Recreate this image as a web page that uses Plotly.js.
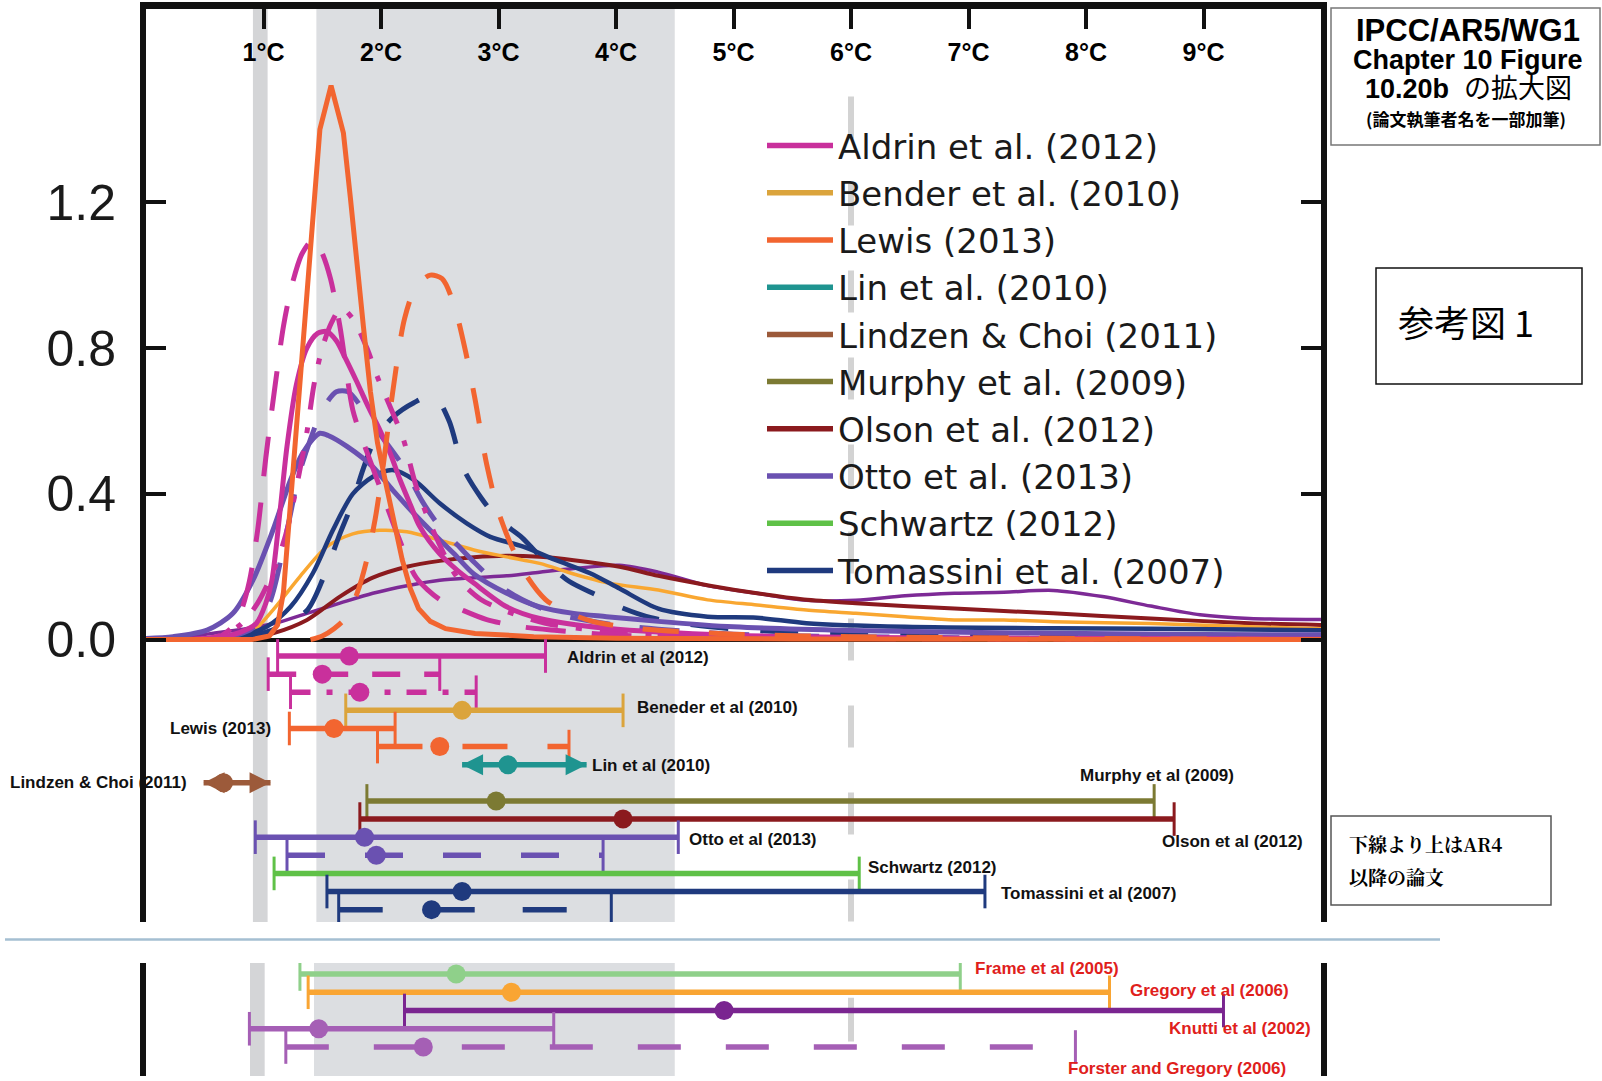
<!DOCTYPE html>
<html><head><meta charset="utf-8">
<script src="https://cdn.plot.ly/plotly-3.0.1.min.js"></script>
<style>html,body{margin:0;padding:0;background:#fff}#chart{width:1602px;height:1081px}</style>
</head><body><div id="chart"></div>
<script>
// ---------- PDF curves (climate sensitivity, °C -> probability density) ----------
const aldrinT = [0.3, 0.6, 0.8, 0.94, 1.02, 1.07, 1.14, 1.20, 1.28, 1.37, 1.46, 1.54, 1.62, 1.70, 1.79, 1.89, 1.99, 2.08, 2.16, 2.25, 2.33, 2.5, 2.65, 2.79, 3.07, 3.35, 3.92, 5.0, 7.0, 10];
const aldrinY = [0, 0.005, 0.02, 0.045, 0.1, 0.16, 0.35, 0.53, 0.70, 0.80, 0.84, 0.845, 0.82, 0.77, 0.71, 0.64, 0.575, 0.51, 0.44, 0.37, 0.31, 0.235, 0.19, 0.155, 0.09, 0.058, 0.031, 0.012, 0.004, 0.001];
const aldrinDashT = [0.4, 0.6, 0.72, 0.8, 0.88, 0.95, 1.02, 1.1, 1.17, 1.24, 1.33, 1.43, 1.5, 1.57, 1.65, 1.76, 1.84, 1.92, 2.0, 2.15, 2.3, 2.5, 2.7, 2.9, 3.2, 3.5, 4.0, 5.0, 7, 10];
const aldrinDashY = [0, 0.005, 0.03, 0.07, 0.16, 0.3, 0.5, 0.7, 0.86, 0.97, 1.06, 1.10, 1.06, 0.99, 0.86, 0.63, 0.55, 0.48, 0.41, 0.28, 0.17, 0.11, 0.08, 0.055, 0.035, 0.025, 0.012, 0.005, 0.002, 0];
const aldrinDotT = [0.4, 0.6, 0.8, 0.95, 1.1, 1.2, 1.3, 1.37, 1.43, 1.5, 1.58, 1.66, 1.76, 1.88, 1.97, 2.05, 2.19, 2.3, 2.47, 2.65, 2.85, 3.05, 3.4, 4.0, 5.0, 7, 10];
const aldrinDotY = [0, 0.008, 0.04, 0.1, 0.2, 0.3, 0.45, 0.57, 0.7, 0.8, 0.87, 0.91, 0.88, 0.8, 0.72, 0.66, 0.55, 0.42, 0.28, 0.17, 0.11, 0.08, 0.045, 0.02, 0.008, 0.003, 0];
const benderT = [0.6, 0.885, 1.08, 1.31, 1.54, 1.76, 1.99, 2.22, 2.50, 2.79, 3.07, 3.35, 3.64, 3.94, 4.36, 4.78, 5.2, 5.62, 6.04, 6.46, 6.88, 7.3, 7.72, 8.55, 9.39, 10];
const benderY = [0, 0.017, 0.081, 0.173, 0.255, 0.29, 0.30, 0.296, 0.273, 0.246, 0.227, 0.209, 0.18, 0.155, 0.136, 0.109, 0.095, 0.081, 0.072, 0.063, 0.054, 0.054, 0.049, 0.044, 0.035, 0.03];
const lewisT = [0, 0.9, 1.05, 1.12, 1.17, 1.22, 1.26, 1.30, 1.35, 1.40, 1.44, 1.48, 1.575, 1.68, 1.74, 1.79, 1.85, 1.91, 1.97, 2.04, 2.11, 2.18, 2.25, 2.32, 2.42, 2.55, 2.8, 3.3, 4.0, 5.5, 10];
const lewisY = [0, 0, 0.01, 0.04, 0.13, 0.33, 0.50, 0.67, 0.86, 1.04, 1.22, 1.40, 1.52, 1.39, 1.21, 1.04, 0.86, 0.68, 0.54, 0.43, 0.33, 0.22, 0.14, 0.085, 0.05, 0.03, 0.017, 0.008, 0.004, 0.002, 0];
const lewisDashT = [1.4, 1.5, 1.6, 1.7, 1.8, 1.88, 1.95, 2.02, 2.1, 2.2, 2.3, 2.42, 2.52, 2.62, 2.72, 2.8, 2.9, 3.0, 3.12, 3.25, 3.4, 3.55, 3.8, 4.2, 5.0, 6.0, 8.0, 10];
const lewisDashY = [0, 0.01, 0.03, 0.06, 0.13, 0.22, 0.33, 0.48, 0.68, 0.88, 0.97, 1.0, 0.99, 0.92, 0.79, 0.66, 0.48, 0.35, 0.25, 0.17, 0.11, 0.08, 0.05, 0.03, 0.015, 0.008, 0.003, 0];
const olsonT = [0.6, 0.9, 1.08, 1.37, 1.65, 1.93, 2.22, 2.5, 2.79, 3.07, 3.35, 3.64, 4.03, 4.36, 4.8, 5.2, 5.6, 6.04, 6.88, 7.72, 8.55, 9.39, 10];
const olsonY = [0, 0.005, 0.017, 0.054, 0.118, 0.17, 0.2, 0.216, 0.226, 0.23, 0.227, 0.218, 0.2, 0.175, 0.148, 0.127, 0.11, 0.1, 0.085, 0.072, 0.058, 0.045, 0.04];
const ottoT = [0, 0.23, 0.52, 0.74, 0.91, 1.08, 1.23, 1.33, 1.42, 1.48, 1.55, 1.71, 1.93, 2.10, 2.28, 2.45, 2.62, 2.79, 3.07, 3.35, 3.64, 3.92, 4.36, 5.0, 6.0, 7.5, 9.0, 10];
const ottoY = [0.003, 0.008, 0.026, 0.072, 0.163, 0.30, 0.438, 0.51, 0.55, 0.566, 0.56, 0.53, 0.474, 0.41, 0.346, 0.29, 0.236, 0.18, 0.127, 0.09, 0.072, 0.063, 0.05, 0.035, 0.025, 0.018, 0.014, 0.013];
const ottoDashT = [0.6, 0.9, 1.05, 1.2, 1.3, 1.4, 1.5, 1.62, 1.72, 1.85, 2.0, 2.2, 2.35, 2.5, 2.65, 2.8, 3.0, 3.2, 3.5, 4.0, 5.0, 7.0, 10];
const ottoDashY = [0, 0.03, 0.1, 0.3, 0.45, 0.55, 0.63, 0.68, 0.68, 0.63, 0.56, 0.47, 0.38, 0.31, 0.26, 0.21, 0.15, 0.11, 0.07, 0.04, 0.015, 0.005, 0];
const tomassiniT = [0.5, 0.8, 1.03, 1.23, 1.42, 1.59, 1.76, 1.93, 2.10, 2.28, 2.50, 2.73, 2.93, 3.21, 3.49, 3.78, 4.03, 4.36, 4.78, 5.2, 5.62, 6.46, 7.72, 8.55, 10];
const tomassiniY = [0, 0.01, 0.036, 0.09, 0.182, 0.30, 0.40, 0.447, 0.465, 0.438, 0.374, 0.319, 0.282, 0.255, 0.218, 0.182, 0.14, 0.085, 0.063, 0.06, 0.045, 0.035, 0.031, 0.03, 0.026];
const tomassiniDashT = [0.8, 1.1, 1.37, 1.51, 1.65, 1.75, 1.85, 1.95, 2.1, 2.28, 2.45, 2.58, 2.7, 2.85, 3.0, 3.2, 3.35, 3.6, 3.85, 4.03, 4.3, 4.8, 5.5, 7, 10];
const tomassiniDashY = [0, 0.03, 0.08, 0.17, 0.29, 0.37, 0.47, 0.55, 0.61, 0.65, 0.67, 0.6, 0.47, 0.39, 0.33, 0.28, 0.23, 0.16, 0.12, 0.09, 0.06, 0.035, 0.02, 0.01, 0.003];
const extraT = [0.3, 0.52, 0.85, 1.1, 1.37, 1.65, 1.93, 2.22, 2.5, 2.79, 3.07, 3.35, 3.64, 4.03, 4.36, 4.78, 5.2, 5.62, 6.04, 6.46, 6.88, 7.3, 7.72, 8.14, 8.55, 8.97, 9.39, 10];
const extraY = [0, 0.015, 0.03, 0.045, 0.072, 0.1, 0.127, 0.148, 0.163, 0.17, 0.175, 0.185, 0.195, 0.204, 0.185, 0.148, 0.127, 0.108, 0.108, 0.12, 0.127, 0.13, 0.135, 0.118, 0.092, 0.068, 0.058, 0.055];

// ---------- ranges (low, best, high, °C) ----------
const upperStudy = ["Aldrin", "Aldrin", "Aldrin", "Bender", "Lewis", "Lewis", "Lin", "Lindzen", "Murphy", "Olson", "Otto", "Otto", "Schwartz", "Tomassini", "Tomassini"];
const upperLo   = [1.12, 1.04, 1.23, 1.70, 1.22, 1.97, 2.69, 0.49, 1.88, 1.82, 0.93, 1.20, 1.09, 1.54, 1.64];
const upperBest = [1.73, 1.50, 1.82, 2.69, 1.60, 2.50, 3.08, 0.66, 2.98, 4.06, 1.86, 1.96, null, 2.69, 2.43];
const upperHi   = [3.40, 2.50, 2.81, 4.06, 2.12, 3.60, 3.75, 1.06, 8.58, 8.75, 4.53, 3.89, 6.07, 7.14, 3.96];
const lowerStudy = ["Frame", "Gregory", "Knutti", "Forster", "Forster"];
const lowerLo   = [1.31, 1.38, 2.20, 0.88, 1.19];
const lowerBest = [2.64, 3.11, 4.92, 1.47, 2.36];
const lowerHi   = [6.93, 8.20, 9.17, 3.47, 7.91];

const legendStudies = ["Aldrin", "Bender", "Lewis", "Lin", "Lindzen", "Murphy", "Olson", "Otto", "Schwartz", "Tomassini"];
const legendNames = ["Aldrin et al. (2012)", "Bender et al. (2010)", "Lewis (2013)", "Lin et al. (2010)", "Lindzen & Choi (2011)", "Murphy et al. (2009)", "Olson et al. (2012)", "Otto et al. (2013)", "Schwartz (2012)", "Tomassini et al. (2007)"];
const upperLabels = ["Aldrin et al (2012)", "Beneder et al (2010)", "Lewis (2013)", "Lin et al (2010)", "Lindzen & Choi (2011)", "Murphy et al (2009)", "Olson et al (2012)", "Otto et al (2013)", "Schwartz (2012)", "Tomassini et al (2007)"];
const lowerLabels = ["Frame et al (2005)", "Gregory et al (2006)", "Knutti et al (2002)", "Forster and Gregory (2006)"];
const xTickVals = [1, 2, 3, 4, 5, 6, 7, 8, 9];
const xTickText = ["1°C", "2°C", "3°C", "4°C", "5°C", "6°C", "7°C", "8°C", "9°C"];
const yTickVals = [0, 0.4, 0.8, 1.2];
const yTickText = ["0.0", "0.4", "0.8", "1.2"];

// ---------- styles ----------
const COL = {
  Aldrin: '#c9309c', Bender: '#dba43c', Lewis: '#f26530', Lin: '#1f9490', Lindzen: '#9c5a3a',
  Murphy: '#7c7a33', Olson: '#8b1a1e', Otto: '#6a51b1', Schwartz: '#5fc147', Tomassini: '#1f3a7e',
  Frame: '#8fd08a', Gregory: '#f9a533', Knutti: '#7a2590', Forster: '#a55fb5'
};
const upperDash = ['solid', '28px,24px', '20px,16px,6px,16px', 'solid', 'solid', '45px,40px', 'solid', 'solid', 'solid', 'solid', 'solid', '38px,40px', 'solid', 'solid', '44px,48px'];
const upperArrow = [false, false, false, false, false, false, true, true, false, false, false, false, false, false, false];
const lowerDash = ['solid', 'solid', 'solid', 'solid', '43px,45px'];
const FONT = 'Liberation Sans, Arial, Helvetica, sans-serif';

const traces = [];

// curves
const curves = [
  [extraT, extraY, '#7d2a96', 3.5, 'solid', 'spline'],
  [olsonT, olsonY, COL.Olson, 4, 'solid', 'spline'],
  [benderT, benderY, '#f9a731', 3.5, 'solid', 'spline'],
  [tomassiniT, tomassiniY, COL.Tomassini, 4.5, 'solid', 'spline'],
  [tomassiniDashT, tomassiniDashY, COL.Tomassini, 5, '38px,32px', 'spline'],
  [ottoT, ottoY, COL.Otto, 5, 'solid', 'spline'],
  [ottoDashT, ottoDashY, COL.Otto, 5, '40px,30px', 'spline'],
  [aldrinDashT, aldrinDashY, COL.Aldrin, 5, '40px,26px', 'spline'],
  [aldrinDotT, aldrinDotY, COL.Aldrin, 5, '28px,18px,6px,18px', 'spline'],
  [aldrinT, aldrinY, COL.Aldrin, 5, 'solid', 'spline'],
  [lewisDashT, lewisDashY, COL.Lewis, 5, '36px,30px', 'spline'],
  [lewisT, lewisY, COL.Lewis, 5, 'solid', 'linear']
];
curves.forEach(c => traces.push({
  type: 'scatter', mode: 'lines', x: c[0], y: c[1], xaxis: 'x', yaxis: 'y',
  line: {color: c[2], width: c[3], dash: c[4], shape: c[5], smoothing: 0.8},
  showlegend: false, hoverinfo: 'skip'
}));

// range bars
function addBar(study, lo, best, hi, yv, dash, arrow, yaxis, legendName) {
  const col = COL[study];
  traces.push({
    type: 'scatter', mode: 'lines', x: [lo, hi], y: [yv, yv], xaxis: 'x', yaxis: yaxis,
    line: {color: col, width: 5.5, dash: dash},
    name: legendName || study, showlegend: !!legendName, hoverinfo: 'skip'
  });
  const xs = [lo, hi], sym = arrow ? ['arrow-left', 'arrow-right'] : ['line-ns', 'line-ns'];
  const sz = arrow ? [21, 21] : [24, 24];
  const lw = arrow ? [0, 0] : [3, 3];
  if (best !== null) { xs.push(best); sym.push('circle'); sz.push(19); lw.push(0); }
  traces.push({
    type: 'scatter', mode: 'markers', x: xs, y: xs.map(() => yv), xaxis: 'x', yaxis: yaxis,
    marker: {color: col, symbol: sym, size: sz, opacity: 1, line: {color: col, width: lw}},
    showlegend: false, hoverinfo: 'skip'
  });
}
const seen = {};
upperStudy.forEach((s, i) => {
  let lname = null;
  if (!seen[s]) { seen[s] = true; lname = legendNames[legendStudies.indexOf(s)]; }
  addBar(s, upperLo[i], upperBest[i], upperHi[i], -0.045 - 0.0497 * i, upperDash[i], upperArrow[i], 'y', lname);
});
lowerStudy.forEach((s, i) => addBar(s, lowerLo[i], lowerBest[i], lowerHi[i], -i, lowerDash[i], false, 'y2', null));

// labels
const upperLabelPos = [[3.57, -0.050, 'left'], [4.16, -0.185, 'left'], [1.08, -0.2425, 'right'], [3.78, -0.346, 'left'], [0.37, -0.393, 'right'],
  [9.28, -0.374, 'right'], [9.86, -0.553, 'right'], [4.60, -0.547, 'left'], [6.13, -0.626, 'left'], [7.26, -0.696, 'left']];
const lowerLabelPos = [[7.04, 0.31, 'left'], [8.36, -0.88, 'left'], [9.93, -2.98, 'right'], [9.72, -5.17, 'right']];
const annotations = [];
upperLabels.forEach((t, i) => annotations.push({
  text: t, x: upperLabelPos[i][0], y: upperLabelPos[i][1], xref: 'x', yref: 'y', xanchor: upperLabelPos[i][2], yanchor: 'middle',
  showarrow: false, font: {family: FONT, size: 17, color: '#111', weight: 'bold'}
}));
lowerLabels.forEach((t, i) => annotations.push({
  text: t, x: lowerLabelPos[i][0], y: lowerLabelPos[i][1], xref: 'x', yref: 'y2', xanchor: lowerLabelPos[i][2], yanchor: 'middle',
  showarrow: false, font: {family: FONT, size: 17, color: '#e0201b', weight: 'bold'}
}));
// side notes
const PX = v => (v - 146) / 1175, PY = v => (1076 - v) / 1067;
const noteFont = 'Liberation Sans, Arial, Noto Sans CJK JP, sans-serif';
function note(text, px, py, size, family, weight, xanchor) {
  annotations.push({text: text, x: PX(px), y: PY(py), xref: 'paper', yref: 'paper', xanchor: xanchor || 'center', yanchor: 'middle',
    showarrow: false, font: {family: family, size: size, color: '#000', weight: weight}});
}
note('IPCC/AR5/WG1', 1468, 30, 31, noteFont, 'bold');
note('Chapter 10 Figure', 1468, 60, 27, noteFont, 'bold');
note('<b>10.20b</b>  の拡大図', 1468, 89, 27, noteFont, 'normal');
note('(論文執筆者名を一部加筆)', 1466, 119, 17, 'Noto Sans CJK JP, sans-serif', 'bold');
note('参考図 1', 1466, 321, 36, 'Noto Sans CJK JP, sans-serif', 'normal');
note('下線より上はAR4', 1347, 843, 19, 'Noto Serif CJK JP, Noto Sans CJK JP, serif', 'bold', 'left');
note('以降の論文', 1347, 876, 19, 'Noto Serif CJK JP, Noto Sans CJK JP, serif', 'bold', 'left');

const shapes = [
  {type: 'rect', xref: 'x', yref: 'y domain', x0: 0.91, x1: 1.035, y0: 0, y1: 1, fillcolor: '#d4d5d7', line: {width: 0}, layer: 'below'},
  {type: 'rect', xref: 'x', yref: 'y domain', x0: 1.45, x1: 4.5, y0: 0, y1: 1, fillcolor: '#dcdee1', line: {width: 0}, layer: 'below'},
  {type: 'rect', xref: 'x', yref: 'y2 domain', x0: 0.885, x1: 1.01, y0: 0, y1: 1, fillcolor: '#d4d5d7', line: {width: 0}, layer: 'below'},
  {type: 'rect', xref: 'x', yref: 'y2 domain', x0: 1.43, x1: 4.5, y0: 0, y1: 1, fillcolor: '#dcdee1', line: {width: 0}, layer: 'below'},
  {type: 'line', xref: 'x', yref: 'y', x0: 6, x1: 6, y0: 1.49, y1: -0.775, line: {color: '#d3d3d3', width: 6, dash: '42px,45px'}, layer: 'below'},
  {type: 'line', xref: 'x', yref: 'y2', x0: 6, x1: 6, y0: -1.3, y1: -3.7, line: {color: '#d3d3d3', width: 6}, layer: 'below'},
  {type: 'line', xref: 'paper', yref: 'paper', x0: PX(5), x1: PX(1440), y0: PY(939.5), y1: PY(939.5), line: {color: '#a5bfd2', width: 2.5}},
  {type: 'rect', xref: 'paper', yref: 'paper', x0: PX(1331), x1: PX(1600), y0: PY(145), y1: PY(8), line: {color: '#777', width: 1.5}},
  {type: 'rect', xref: 'paper', yref: 'paper', x0: PX(1376), x1: PX(1582), y0: PY(384), y1: PY(268), line: {color: '#111', width: 1.5}},
  {type: 'rect', xref: 'paper', yref: 'paper', x0: PX(1331), x1: PX(1551), y0: PY(905), y1: PY(816), line: {color: '#555', width: 1.5}}
];

const layout = {
  width: 1602, height: 1081,
  margin: {l: 146, r: 281, t: 9, b: 5, pad: 0},
  paper_bgcolor: '#fff', plot_bgcolor: 'rgba(0,0,0,0)',
  showlegend: true,
  legend: {x: PX(762), y: PY(117), xanchor: 'left', yanchor: 'top', bgcolor: 'rgba(0,0,0,0)', borderwidth: 0,
    font: {family: 'DejaVu Sans, sans-serif', size: 34, color: '#1a1a1a'}, itemwidth: 66, tracegroupgap: 0},
  xaxis: {range: [0, 10], side: 'top', anchor: 'y', showline: true, linewidth: 7, linecolor: '#111', mirror: false,
    ticks: 'inside', ticklen: 20, tickwidth: 4, tickcolor: '#111', tickvals: xTickVals, ticktext: xTickText,
    ticklabelposition: 'inside', ticklabelstandoff: 16, tickfont: {family: FONT, size: 25, color: '#000', weight: 'bold'},
    showgrid: false, zeroline: false, fixedrange: true},
  yaxis: {domain: [0.1443, 1], range: [-0.7748, 1.730], anchor: 'x', showline: true, linewidth: 6, linecolor: '#111', mirror: 'ticks',
    ticks: 'inside', ticklen: 20, tickwidth: 4, tickcolor: '#111', tickvals: yTickVals, ticktext: yTickText,
    tickfont: {family: FONT, size: 50, color: '#1a1a1a'}, ticklabelstandoff: 14,
    showgrid: false, zeroline: true, zerolinecolor: '#111', zerolinewidth: 4, fixedrange: true},
  yaxis2: {domain: [0, 0.1059], range: [-5.589, 0.603], anchor: 'x', showline: true, mirror: true, linewidth: 6, linecolor: '#111',
    showticklabels: false, ticks: '', showgrid: false, zeroline: false, fixedrange: true},
  shapes: shapes,
  annotations: annotations
};

Plotly.newPlot('chart', traces, layout, {staticPlot: true, displayModeBar: false});
</script></body></html>
